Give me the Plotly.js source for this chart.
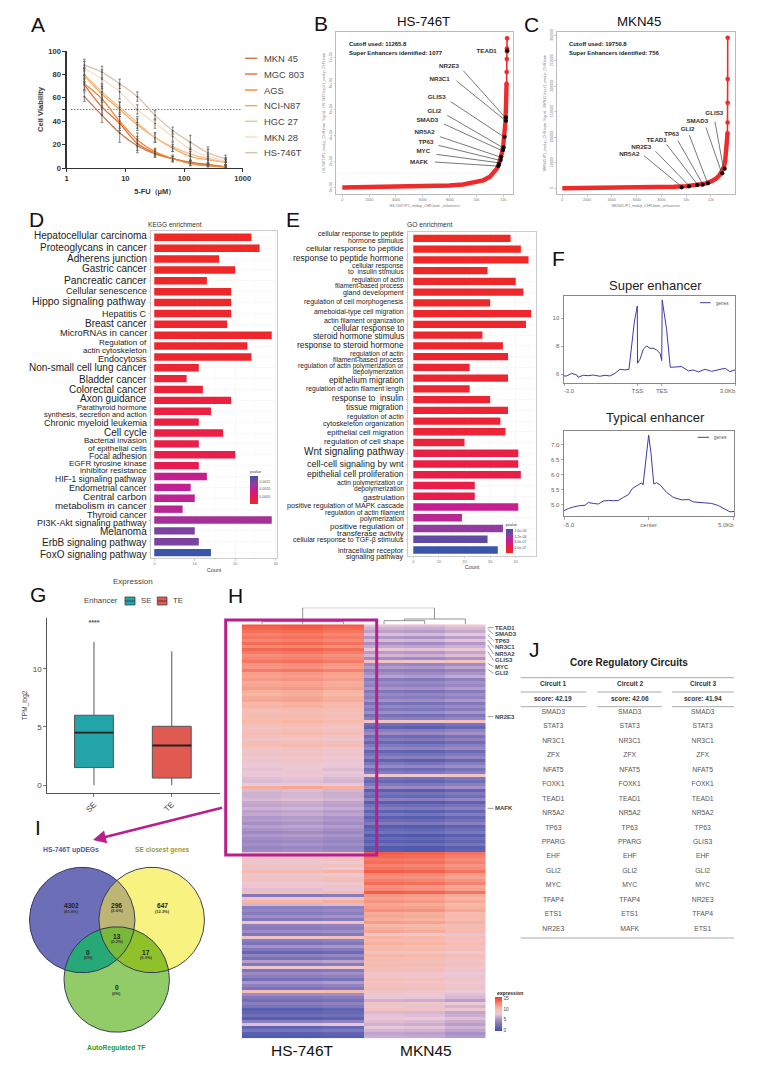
<!DOCTYPE html>
<html><head><meta charset="utf-8">
<script src="https://cdn.plot.ly/plotly-3.0.1.min.js"></script>
<style>html,body{margin:0;padding:0;background:#fff}#g{width:769px;height:1067px}</style>
</head><body><div id="g"></div>
<script>
// ---------- A: dose response ----------
const doses=[2,4,8,16,32,64,128,256,512];
const lineNames=['MKN 45','MGC 803','AGS','NCI-N87','HGC 27','MKN 28','HS-746T'];
const lineColors=['#c87a48','#ea6a32','#f08a30','#f4a860','#f6c08c','#f9dcc0','#e0c0a8'];
const vMKN45=[61,45,30,19,12,8,5,3,1];
const vMGC803=[71,52,38,21,13,8,4,2,1];
const vAGS=[72,59,40,24,14,8,4,2,1];
const vNCI=[79,63,50,37,26,17,10,7,5];
const vHGC=[80,65,52,39,26,18,12,8,5];
const vMKN28=[85,76,65,50,38,27,16,10,6];
const vHS=[88,82,72,61,45,32,22,13,8];
const eMKN45=[4,6,8,6,3,2,1.5,1,1];
const eMGC803=[5,6,6,6,3,2,2,1,1];
const eAGS=[5,6,6,6,3,3,2,1,1];
const eNCI=[6,7,6,5,4,3,4,3,2];
const eHGC=[6,7,5,5,4,4,5,4,2.5];
const eMKN28=[6,8,6,4,4,4,6,6,3];
const eHS=[5,5,4,4,4,3,6,5,3];
// ---------- B: HS-746T hockey stick ----------
const bRank=[0,2000,4000,6000,8000,9000,10000,10500,11000,11265,11500,11650,11800,11900,12000,12100,12150,12190,12220,12240];
const bSig=[100,300,600,1000,1700,2500,4100,5700,8500,11200,14500,17500,22000,27000,33000,42000,50000,60000,70000,80000];
const bTopRank=[12240,12250,12260,12270,12270,12280];
const bTopSig=[80000,89000,99000,105000,107000,115000];
const bGenes=['TEAD1','NR2E3','NR3C1','GLIS3','GLI2','SMAD3','NR5A2','TP63','MYC','MAFK'];
const bGeneRank=[12296,12197,12197,12097,12022,11973,11849,11799,11675,11625];
const bGeneSig=[105400,54100,51500,39200,31000,29000,23850,21280,18200,16670];
const bLabelX=[10757,7950,7253,7030,6855,6334,6135,6235,6036,5713];
const bLabelY=[105100,93600,83300,69700,59000,51800,42300,35100,27700,19700];
const bLeadX=[9017,12047,null,8520,12047,null,8073,11948,null,7825,11850,null,7576,11800,null,7278,11700,null,7179,11650,null,7030,11600,null,6905,11550];
const bLeadY=[90000,55100,null,82050,52560,null,66150,39740,null,55640,31540,null,48970,28970,null,39230,23850,null,32560,21280,null,25640,19230,null,19740,16670];
// ---------- C: MKN45 hockey stick ----------
const cRank=[0,2000,4000,6000,8000,9000,10000,11000,11500,12000,12400,12700,12900,13050,13150,13230,13280,13310,13330];
const cSig=[200,400,700,1100,1900,3000,4200,6500,9000,13500,19000,26000,33000,42000,55000,70000,85000,100000,108000];
const cTopRank=[13330,13340,13345,13345,13350];
const cTopSig=[108000,129000,167500,214000,295000];
const cGenes=['NR5A2','NR2E3','TEAD1','TP63','GLI2','SMAD3','GLIS3'];
const cGeneRank=[9630,10222,10895,11325,11755,12912,13100];
const cGeneSig=[1960,3900,6500,7200,9800,29300,38500];
const cLabelX=[5407,6375,7613,8823,10114,10895,12266];
const cLabelY=[66500,80200,93200,106300,116000,131700,147300];
const cLeadX=[6590,9630,null,7532,10222,null,8420,10895,null,9334,11298,null,10250,11700,null,11594,12858,null,12320,12993];
const cLeadY=[63900,3260,null,72400,5200,null,86060,7800,null,93200,9780,null,104300,11700,null,119300,30600,null,130400,41000];
// ---------- D: KEGG ----------
const keggLabels=['Hepatocellular carcinoma','Proteoglycans in cancer','Adherens junction','Gastric cancer','Pancreatic cancer','Cellular senescence','Hippo signaling pathway','Hepatitis C','Breast cancer','MicroRNAs in cancer','Regulation of\nactin cytoskeleton','Endocytosis','Non-small cell lung cancer','Bladder cancer','Colorectal cancer','Axon guidance','Parathyroid hormone\nsynthesis, secretion and action','Chronic myeloid leukemia','Cell cycle','Bacterial invasion\nof epithelial cells','Focal adhesion','EGFR tyrosine kinase\ninhibitor resistance','HIF-1 signaling pathway','Endometrial cancer','Central carbon\nmetabolism in cancer','Thyroid cancer','PI3K-Akt signaling pathway','Melanoma','ErbB signaling pathway','FoxO signaling pathway'];
const keggCount=[24,26,16,20,13,19,19,19,18,29,23,24,11,8,12,19,14,11,17,11,20,11,13,9,10,7,29,10,11,14];
const keggP=[.00001,.00002,.00003,.00004,.00005,.00006,.00007,.00008,.00009,.0001,.0001,.00012,.00018,.0002,.00022,.00026,.0003,.00032,.00035,.00038,.0004,.00045,.00095,.00098,.001,.00105,.0012,.0015,.0015,.00186];
const keggSize=[10,10,10,10,10.3,9,10.5,9,10,9.3,8,9,10,10,10,10,7.5,9,10,8,8.5,8,8.5,9,9.7,9,9,10,10,10];
const keggLabelZ=[92,127,161,191,226,257,288,326,354,385,424,461,489,523,553,581,617,653,681,719,753,786,823,849,888,930,953,980,1011,1047];
// ---------- E: GO ----------
const goLabels=['cellular response to peptide\nhormone stimulus','cellular response to peptide','response to peptide hormone','cellular response\nto  insulin stimulus','regulation of actin\nfilament-based process','gland development','regulation of cell morphogenesis','ameboidal-type cell migration','actin filament organization','cellular response to\nsteroid hormone stimulus','response to steroid hormone','regulation of actin\nfilament-based process','regulation of actin polymerization or\ndepolymerization','epithelium migration','regulation of actin filament length','response to  insulin','tissue migration','regulation of actin\ncytoskeleton organization','epithelial cell migration','regulation of cell shape','Wnt signaling pathway','cell-cell signaling by wnt','epithelial cell proliferation','actin polymerization or\ndepolymerization','gastrulation','positive regulation of MAPK cascade','regulation of actin filament\npolymerization','positive regulation of\ntransferase activity','cellular response to TGF-\u03b2 stimulus','intracellular receptor\nsignaling pathway'];
const goCount=[38,42,45,29,40,43,30,46,44,27,35,37,22,37,22,30,37,34,36,20,41,41,42,24,24,41,19,35,29,33];
const goP=[1e-8,2e-8,3e-8,4e-8,5e-8,6e-8,7e-8,8e-8,9e-8,1e-7,1e-7,1.1e-7,1.2e-7,1.3e-7,1.4e-7,1.6e-7,1.7e-7,1.9e-7,2e-7,2.2e-7,3.4e-7,3.5e-7,3.6e-7,3.8e-7,4e-7,9e-7,9.8e-7,1.3e-6,1.55e-6,1.75e-6];
const goSize=[7,8,8.5,6.8,6.6,7.2,6.9,6.9,6.9,8.2,8.4,6.8,6.7,8.3,6.7,8.3,8.2,7.2,7.6,7.8,10,9,8.6,6.6,8,7.2,6.8,8,7,7.2];
const goLabelZ=[97,129,160,191,234,263,290,320,348,383,421,455,492,526,552,579,607,645,681,709,741,776,807,843,876,902,934,975,1006,1046];
const pScale=[[0,'#ee2a24'],[.25,'#e81c50'],[.5,'#c81d90'],[.75,'#8f3d9e'],[1,'#3a55a8']];
// ---------- F: profiles ----------
const seX=[-3.0,-2.89,-2.69,-2.48,-2.42,-2.21,-2.01,-1.80,-1.53,-1.32,-1.12,-.91,-.71,-.50,-.34,-.23,-.12,0,.01,.11,.25,.38,.52,.65,.79,.93,1.0,1.02,1.2,1.35,1.68,1.82,2.09,2.29,2.50,2.77,3.04,3.32,3.59,3.79,4.0];
const seY=[5.88,5.88,6.07,5.95,5.79,5.93,5.90,5.95,5.86,5.93,5.88,6.07,6.36,6.31,6.36,8.21,9.74,10.88,6.79,7.07,7.79,8.02,7.86,7.86,7.74,7.5,6.98,11.31,9.2,6.5,6.52,6.55,6.24,6.31,6.17,6.36,6.21,6.31,6.43,6.19,6.31];
const teX=[-5,-4.74,-4.45,-4.15,-3.76,-3.56,-3.27,-2.97,-2.68,-2.38,-2.09,-1.79,-1.50,-1.20,-.96,-.71,-.41,-.33,-.16,0,.14,.30,.47,.67,1.06,1.46,1.95,2.38,2.64,2.93,3.32,3.72,4.11,4.50,4.80,5.04];
const teY=[4.80,4.87,4.92,4.96,4.98,5.07,5.04,5.02,5.12,5.14,5.13,5.14,5.24,5.33,5.54,5.62,5.73,5.66,6.6,7.32,6.71,5.69,5.73,5.66,5.41,5.24,5.16,5.17,5.09,5.08,5.07,5.04,4.97,4.84,4.76,4.77];
// ---------- G: box ----------
const boxNames=['SE','TE'];
const boxQ1=[1.5,.6],boxMed=[4.5,3.4],boxQ3=[6,5.05],boxLow=[0,0],boxHigh=[12.3,11.5];
const boxColors=['#23a4a8','#e15a52'];
// ---------- H: heatmap ----------
const hsTop=[14.2,13.8,13.2,12.6,13,12.4,13.4,12.2,13.6,12.8,12,12.4,13,11.8,11.6,12.8,11.4,11.2,11.6,10.8,11,11.4,10.6,10.4,10.8,11,10.2,10.4,9.6,9.4,9.8,9.4,10.2,9.4,8.8,9.2,9.6,9,8.6,9.4,9.6,8.6,8.2,8.8,8,8.4,7.8,7.6,7.2,8,7.4,7,6.8,7.6,10.8,6.8,6.4,6.4,6.8,6,5.8,6.4,5.6,6,5.2,5.4,4.8,5.6,5,4.4,5.2,4.6,4.2,4.8,4,4.4];
const mknTop=[7.2,6.4,5.6,7,5.2,6.8,4.8,6,7.4,5.4,6.6,4.6,8.6,4.2,5.4,3.6,4.6,5.6,3.2,4.4,3.8,5,2.8,4.2,3.4,4.8,2.6,4,3,4.6,2.4,3.6,8.6,2.2,1.2,3.4,4.4,2,3.2,1.6,3,4,1.4,2.6,3.6,1.2,2.8,4.2,2,3.2,8,2.4,1.6,3,4.4,1,2.6,1.8,3.6,0.8,2.2,3.2,1.2,2.8,1,2,3,0.8,1.6,2.4,0.6,1.8,1,2.2,0.6,0.8];
const hsBot=[8.2,7.8,8.6,7.4,8.8,7.2,10.2,7.4,8.6,9,7.6,8.4,7,9.6,3,8.6,10.4,6.6,3.4,4,3.2,4.6,3,8.8,3.6,3.2,4.4,2.8,8.6,3.4,2.6,4.8,3,1.6,3.8,2.4,5.4,3,8,2.8,4.4,3.4,2.2,5,3.6,2.6,9.6,4.4,3,2.2,3.4,2.6,1,1.4,2,0.8,3.4,7,1.2,2.6,1,0.6];
const mknBot=[14,13.6,13,13.4,12.6,13,14,12.4,12,12.6,13.4,11.8,12.2,14,11.6,11.2,11.8,11,11.4,12,10.8,11,10.6,11.4,10.2,10.6,11,8.2,10.4,10,10.6,9.8,10.2,8.6,10.4,9.6,9.4,10,9.2,9.6,8.4,8.2,9.4,8.6,9,9.6,8.4,8,7.6,6.4,8.6,7.4,9,6.8,7.2,8,7,6.4,7.4,6.6,5.8,6.2];
const repTopHS=[0,.2,-.2],repTopMKN=[0,-.2,.4],repBotHS=[0,0,.3],repBotMKN=[0,-.2,-.9];
const heatScale=[[0,'#3d4ea8'],[.33,'#a48fc6'],[.5,'#ecc9d8'],[.67,'#f8b9a8'],[1,'#f23a22']];
const dendroX=[1,1,4.24,4.24,null,0,0,2,2,null,1,1,null,3,3,4,4,null,3.5,3.5,5,5];
const dendroH=[8,50,50,16,null,0,8,8,0,null,0,8,null,0,11,11,0,null,11,16,16,0];
const heatGenes=['TEAD1','SMAD3','TP63','NR3C1','NR5A2','GLIS3','MYC','GLI2','NR2E3','MAFK'];
const heatGeneRowZ=[113,118,135,150,165,185,220,238,380,655];
const heatGeneLabelZ=[113,132,152,172,192,211,230,250,380,655];
// ---------- I: Venn ----------
const vennX=[82.2,151.7,116.7],vennY=[920,920,979.5],vennR=52.7;
const vennFills=['#6c6eb8','#f8f280','#92cc68'];
const vennCounts=[['4302','(81.6%)',71,905.7],['296','(5.6%)',116.7,905],['647','(12.3%)',162.7,905.7],['13','(0.2%)',116.7,936],['0','(0%)',88.3,952.3],['17','(0.3%)',145.7,952.3],['0','(0%)',116.7,987.7]];
// ---------- J: table ----------
const circuit1=['SMAD3','STAT3','NR3C1','ZFX','NFAT5','FOXK1','TEAD1','NR5A2','TP63','PPARG','EHF','GLI2','MYC','TFAP4','ETS1','NR2E3'];
const circuit2=['SMAD3','STAT3','NR3C1','ZFX','NFAT5','FOXK1','TEAD1','NR5A2','TP63','PPARG','EHF','GLI2','MYC','TFAP4','ETS1','MAFK'];
const circuit3=['SMAD3','STAT3','NR3C1','ZFX','NFAT5','FOXK1','TEAD1','NR5A2','TP63','GLIS3','EHF','GLI2','MYC','NR2E3','TFAP4','ETS1'];
const circuitHead=['Circuit 1','Circuit 2','Circuit 3'];
const circuitScore=['score: 42.19','score: 42.06','score: 41.94'];
const circuitPos=[553.3,629.7,702.7];

const W=769,H=1067,FF='"Liberation Sans",Arial,sans-serif';
const dx=(a,b)=>[a/W,b/W], dy=(t,b)=>[1-b/H,1-t/H];
const anns=[],shapes=[],traces=[];
function tx(x,y,text,size,color,anchor,weight,extra){anns.push(Object.assign({xref:'paper',yref:'paper',x:x/W,y:1-y/H,text:text,showarrow:false,xanchor:anchor||'center',yanchor:'middle',borderpad:0,borderwidth:0,font:{family:FF,size:size,color:color||'#222',weight:weight||400}},extra||{}));}
function ln(x0,y0,x1,y1,color,w,dash){shapes.push({type:'line',xref:'paper',yref:'paper',x0:x0/W,y0:1-y0/H,x1:x1/W,y1:1-y1/H,line:{color:color,width:w,dash:dash||'solid'}});}

// letters
[['A',38,25],['B',320.7,23.3],['C',531.7,24],['D',36.7,220],['E',293,220],['F',558,258],['G',38,594],['H',235,595],['I',38,827],['J',534,649]].forEach(l=>tx(l[1],l[2],l[0],21,'#111'));

// A
const aVals=[vMKN45,vMGC803,vAGS,vNCI,vHGC,vMKN28,vHS],aErr=[eMKN45,eMGC803,eAGS,eNCI,eHGC,eMKN28,eHS];
traces.push({x:[1.2,950],y:[50,50],mode:'lines',line:{color:'#333',width:.9,dash:'1px,2px'},xaxis:'x',yaxis:'y',showlegend:false,hoverinfo:'skip'});
aVals.forEach((v,i)=>traces.push({x:doses,y:v,name:lineNames[i],mode:'lines+markers',line:{color:lineColors[i],width:1.3,shape:'spline',smoothing:1},marker:{size:1.8,color:'#444'},error_y:{type:'data',array:aErr[i],color:'#555',thickness:.7,width:1.3},xaxis:'x',yaxis:'y',showlegend:false}));
const aLegY=[58.3,74,90,105.7,121.3,137,152.7];
lineNames.forEach((n,i)=>{ln(245,aLegY[i],257.3,aLegY[i],lineColors[i],1.4);tx(264,aLegY[i],n,9.4,'#444','left');});

// B & C
function hockey(ax,ay,r,s,tr,ts,gr,gs,lx,ly,gn,lex,ley,cut,yMin,yMax){
 traces.push({x:[cut,cut],y:[yMin,yMax],mode:'lines',line:{color:'#ddd',width:.5,dash:'1px,2px'},xaxis:ax,yaxis:ay,hoverinfo:'skip',showlegend:false});
 traces.push({x:[-500,14000],y:[cut,cut],mode:'lines',line:{color:'#ddd',width:.5,dash:'1px,2px'},xaxis:ax,yaxis:ay,hoverinfo:'skip',showlegend:false});
 traces.push({x:r,y:s,mode:'lines',line:{color:'#ee2a2a',width:4.4},xaxis:ax,yaxis:ay,showlegend:false});
 traces.push({x:tr,y:ts,mode:'lines+markers',line:{color:'#ee2a2a',width:1.6},marker:{size:4.6,color:'#ee2a2a'},xaxis:ax,yaxis:ay,showlegend:false});
 traces.push({x:lex,y:ley,mode:'lines',line:{color:'#555',width:.8},xaxis:ax,yaxis:ay,showlegend:false,hoverinfo:'skip',connectgaps:false});
 traces.push({x:gr,y:gs,mode:'markers',marker:{size:4.2,color:'#000'},xaxis:ax,yaxis:ay,showlegend:false,text:gn});
 traces.push({x:lx,y:ly,text:gn,mode:'text',textposition:'middle center',textfont:{family:FF,size:6.2,color:'#333',weight:700},xaxis:ax,yaxis:ay,showlegend:false,cliponaxis:false});
}
hockey('x2','y2',bRank,bSig,bTopRank,bTopSig,bGeneRank,bGeneSig,bLabelX,bLabelY,bGenes,bLeadX,bLeadY,11265.8,-4850,120000);
hockey('x3','y3',cRank,cSig,cTopRank,cTopSig,cGeneRank,cGeneSig,cLabelX,cLabelY,cGenes,cLeadX,cLeadY,19750.8,-11150,306800);
tx(424,21,'HS-746T',13.3,'#111');tx(639,21,'MKN45',13.3,'#111');
tx(349,44.3,'Cutoff used: 11265.8',5.9,'#222','left',700);tx(349,53,'Super Enhancers identified: 1077',5.9,'#222','left',700);
tx(569,44.3,'Cutoff used: 19750.8',5.9,'#222','left',700);tx(569,53,'Super Enhancers identified: 756',5.9,'#222','left',700);

// D & E
function barsPanel(ax,ay,labels,counts,p,cmax,cb,sizes,labZ,xRight,lineK){
 traces.push({type:'bar',orientation:'h',x:counts,y:labels.map((_,i)=>i),xaxis:ax,yaxis:ay,showlegend:false,hovertext:labels,marker:{color:p,colorscale:pScale,cmin:0,cmax:cmax,line:{width:0},colorbar:cb}});
 labels.forEach((t,i)=>{const parts=t.split('\n'),gap=sizes[i]*lineK,yc=labZ[i]/3+205;
  parts.forEach((s,j)=>tx(xRight,yc+(j-(parts.length-1)/2)*gap,s,sizes[i],'#222','right'));});
}
const cbBase={lenmode:'pixels',thicknessmode:'pixels',xanchor:'left',yanchor:'top',outlinewidth:0,borderwidth:0,xpad:0,ypad:0,ticks:'',tickfont:{family:FF,size:3.6,color:'#555'}};
barsPanel('x4','y4',keggLabels,keggCount,keggP,.00186,Object.assign({},cbBase,{x:250/W,y:1-467/H,len:37,thickness:7.7,tickvals:[.0005,.001,.0015],ticktext:['0.0005','0.0010','0.0015'],title:{text:'pvalue',side:'top',font:{family:FF,size:3.8,color:'#333'}}}),keggSize,keggLabelZ,146.7,.92);
barsPanel('x5','y5',goLabels,goCount,goP,1.75e-6,Object.assign({},cbBase,{x:505.7/W,y:1-520/H,len:33.3,thickness:6.6,tickvals:[4e-7,8e-7,1.2e-6,1.6e-6],ticktext:['4.0e-07','8.0e-07','1.2e-06','1.6e-06'],title:{text:'pvalue',side:'top',font:{family:FF,size:3.8,color:'#333'}}}),goSize,goLabelZ,404,.92);
tx(148,224,'KEGG enrichment',6.6,'#333','left');tx(407.3,225,'GO enrichment',6.7,'#333','left');

// F
traces.push({x:seX,y:seY,mode:'lines',line:{color:'#3c3ca8',width:1},xaxis:'x6',yaxis:'y6',showlegend:false,name:'genes'});
traces.push({x:teX,y:teY,mode:'lines',line:{color:'#3c3ca8',width:1},xaxis:'x7',yaxis:'y7',showlegend:false,name:'genes'});
tx(655,285,'Super enhancer',13,'#222');tx(655.7,417.7,'Typical enhancer',13,'#222');
ln(700,302.7,710.7,302.7,'#3c3ca8',1);tx(722.7,303,'genes',4.6,'#555');
ln(697.7,437.3,709,437.3,'#3c3ca8',1);tx(720.7,437.7,'genes',4.6,'#555');

// G
boxNames.forEach((n,i)=>{
 traces.push({type:'box',name:n,x:[i],q1:[boxQ1[i]],median:[boxMed[i]],q3:[boxQ3[i]],lowerfence:[boxLow[i]],upperfence:[boxHigh[i]],width:.5,whiskerwidth:0,boxpoints:false,fillcolor:boxColors[i],line:{color:'#555',width:1},xaxis:'x8',yaxis:'y8',showlegend:false});
 traces.push({x:[i-.25,i+.25],y:[boxMed[i],boxMed[i]],mode:'lines',line:{color:'#222',width:1.8},xaxis:'x8',yaxis:'y8',showlegend:false,hoverinfo:'skip'});
});
traces.push({x:[0],y:[13.95],text:['****'],mode:'text',textfont:{family:FF,size:7,color:'#555',weight:700},xaxis:'x8',yaxis:'y8',showlegend:false,cliponaxis:false});
tx(132.7,581.7,'Expression',8,'#444');tx(100.7,600.7,'Enhancer',7.8,'#444');tx(145.7,600.7,'SE',7.8,'#444');tx(177.7,600.7,'TE',7.8,'#444');
[[125,135,boxColors[0]],[157.3,167,boxColors[1]]].forEach(b=>{shapes.push({type:'rect',xref:'paper',yref:'paper',x0:b[0]/W,x1:b[1]/W,y0:1-605/H,y1:1-597/H,fillcolor:b[2],line:{color:'#444',width:.8}});ln(b[0],601,b[1],601,'#333',.8);});

// H
const heatZ=[];
hsTop.forEach((v,i)=>heatZ.push([v+repTopHS[0],v+repTopHS[1],v+repTopHS[2],mknTop[i]+repTopMKN[0],mknTop[i]+repTopMKN[1],mknTop[i]+repTopMKN[2]]));
hsBot.forEach((v,i)=>heatZ.push([v+repBotHS[0],v+repBotHS[1],v+repBotHS[2],mknBot[i]+repBotMKN[0],mknBot[i]+repBotMKN[1],mknBot[i]+repBotMKN[2]]));
traces.push({type:'heatmap',z:heatZ,xaxis:'x9',yaxis:'y9',zmin:-.5,zmax:15.5,colorscale:heatScale,xgap:0,ygap:0,showlegend:false,colorbar:{lenmode:'pixels',len:34.4,thickness:6.7,thicknessmode:'pixels',x:495/W,y:1-997.3/H,xanchor:'left',yanchor:'top',outlinewidth:0,borderwidth:0,xpad:0,ypad:0,ticks:'',tickvals:[0,5,10,15],tickfont:{family:FF,size:4.8,color:'#444'}}});
traces.push({x:dendroX,y:dendroH,mode:'lines',line:{color:'#777',width:.8},xaxis:'x9',yaxis:'y11',showlegend:false,hoverinfo:'skip'});
shapes.push({type:'rect',xref:'paper',yref:'paper',x0:225.7/W,x1:376.7/W,y0:1-855/H,y1:1-620/H,line:{color:'#b81e8c',width:3},fillcolor:'rgba(0,0,0,0)'});
tx(302.7,1050,'HS-746T',15.5,'#111');tx(425.7,1050,'MKN45',15.5,'#111');
tx(510,993,'expression',5,'#222','center',700);
heatGenes.forEach((g,i)=>{const ly=heatGeneLabelZ[i]/3+590,ry=heatGeneRowZ[i]/3+590;ln(487.7,ry,493.5,ly,'#555',.6);tx(495,ly,g,6,'#444','left',700);});

// I
function circPts(i){const p=[];for(let a=0;a<360;a+=2){const t=a*Math.PI/180;p.push([vennX[i]+vennR*Math.cos(t),vennY[i]+vennR*Math.sin(t)]);}return p;}
function inC(p,i){return Math.hypot(p[0]-vennX[i],p[1]-vennY[i])<=vennR+.01;}
function region(set){let pts=[];set.forEach(i=>circPts(i).forEach(p=>{if(set.every(j=>inC(p,j)))pts.push(p);}));
 const cx=pts.reduce((s,p)=>s+p[0],0)/pts.length,cy=pts.reduce((s,p)=>s+p[1],0)/pts.length;
 pts.sort((a,b)=>Math.atan2(a[1]-cy,a[0]-cx)-Math.atan2(b[1]-cy,b[0]-cx));pts.push(pts[0]);return pts;}
function fillReg(set,col,lineC){const p=region(set);traces.push({x:p.map(q=>q[0]),y:p.map(q=>q[1]),mode:'lines',fill:lineC?'none':'toself',fillcolor:col,line:{color:lineC||col,width:lineC?.9:0},xaxis:'x10',yaxis:'y10',showlegend:false,hoverinfo:'skip'});}
fillReg([0],vennFills[0]);fillReg([1],vennFills[1]);fillReg([2],vennFills[2]);
fillReg([0,1],'#bdb573');fillReg([0,2],'#26a877');fillReg([1,2],'#8fc22a');fillReg([0,1,2],'#78b83a');
[0,1,2].forEach(i=>fillReg([i],'#000','#2a2a50'));
vennCounts.forEach(c=>{tx(c[2],c[3],c[0],6.6,'#222','center',700);tx(c[2],c[3]+5.5,c[1],4,'#333','center',700);});
tx(71,850,'HS-746T upDEGs',6.8,'#4a5aa8','center',700);tx(162.7,850,'SE closest genes',6.6,'#9a9a40','center',700);tx(116.7,1047.7,'AutoRegulated TF',6.8,'#2a9a3a','center',700);
anns.push({xref:'paper',yref:'paper',x:93/W,y:1-840/H,axref:'paper',ayref:'paper',ax:225/W,ay:1-807/H,text:' ',showarrow:true,arrowhead:2,arrowsize:1,arrowwidth:2.6,arrowcolor:'#b81e8c'});

// J
[circuit1,circuit2,circuit3].forEach((c,i)=>{traces.push({x:c.map(()=>circuitPos[i]),y:c.map((_,r)=>r),text:c,mode:'text',textfont:{family:FF,size:6.8,color:'#555'},xaxis:'x12',yaxis:'y12',showlegend:false,name:circuitHead[i]});
 tx(circuitPos[i],683.3,circuitHead[i],6.5,'#333','center',700);tx(circuitPos[i],698.3,circuitScore[i],6.5,'#333','center',700);});
tx(629.3,662.7,'Core Regulatory Circuits',10,'#222','center',700);
ln(520.7,677.7,734,677.7,'#aaa',1);ln(520.7,938,734,938,'#aaa',1);
[692,706.7].forEach(y=>{ln(520.7,y,586.3,y,'#aaa',1);ln(597.3,y,661.7,y,'#aaa',1);ln(672,y,734,y,'#aaa',1);});

const tiny={family:FF,size:3.6,color:'#777'};
const smBox={showline:true,mirror:true,linecolor:'#bbb',linewidth:1,zeroline:false,showgrid:false,ticks:'outside',ticklen:1.5,tickwidth:.5,tickcolor:'#999',tickfont:tiny};
const barX={...smBox,showgrid:true,gridcolor:'#efefef',gridwidth:.5,minor:{showgrid:true,gridcolor:'#f6f6f6',gridwidth:.4,ticks:''},linecolor:'#ccc',tickfont:{family:FF,size:3.9,color:'#777'}};
const barY={...smBox,showgrid:true,gridcolor:'#f2f2f2',gridwidth:.5,linecolor:'#ccc',showticklabels:false,ticklen:1.5};
const fAx={showline:true,mirror:true,linecolor:'#888',linewidth:1,zeroline:false,showgrid:false,ticks:'outside',ticklen:2.5,tickwidth:.7,tickcolor:'#888',tickfont:{family:FF,size:6,color:'#666'}};
const hid={visible:false,showgrid:false,zeroline:false,fixedrange:true};
const boldA={family:FF,size:7.6,color:'#333',weight:700};

const layout={width:W,height:H,autosize:false,margin:{l:0,r:0,t:0,b:0,pad:0},paper_bgcolor:'#fff',plot_bgcolor:'rgba(0,0,0,0)',showlegend:false,bargap:.32,boxmode:'overlay',hovermode:false,font:{family:FF},
 annotations:anns,shapes:shapes,
 xaxis:{domain:dx(66.7,242.7),type:'log',range:[0,3],anchor:'y',showline:true,linecolor:'#333',linewidth:1.3,ticks:'outside',ticklen:3,tickwidth:1,tickcolor:'#333',tickvals:[1,10,100,1000],ticktext:['1','10','100','1000'],tickfont:boldA,showgrid:false,zeroline:false,title:{text:'5-FU\uff08\u03bcM\uff09',font:{...boldA,size:7.4},standoff:6}},
 yaxis:{domain:dy(51,168),range:[0,100],anchor:'x',showline:true,linecolor:'#333',linewidth:1.3,ticks:'outside',ticklen:3,tickwidth:1,tickcolor:'#333',tickvals:[0,20,40,50,60,80,100],ticktext:['0','20','40','','60','80','100'],tickfont:boldA,showgrid:false,zeroline:false,title:{text:'Cell Viability',font:boldA,standoff:3}},
 xaxis2:{...smBox,domain:dx(336,513),range:[-470,12720],anchor:'y2',tickvals:[0,2000,4000,6000,8000,10000,12000],title:{text:'HS.746T.IP1_rmdup_CHR.bam _enhancers',font:tiny,standoff:3}},
 yaxis2:{...smBox,domain:dy(31.7,194),range:[-4850,120000],anchor:'x2',tickvals:[0,20000,40000,60000,80000,100000],ticktext:['0e+00','2e+04','4e+04','6e+04','8e+04','1e+05'],tickangle:-90,title:{text:'HS.746T.IP1_rmdup_CHR.bam  Signal - HS.746T.Input1_rmdup_CHR.bam',font:tiny,standoff:3}},
 xaxis3:{...smBox,domain:dx(556.7,735),range:[-452,13938],anchor:'y3',tickvals:[0,2000,4000,6000,8000,10000,12000],title:{text:'MKN45.IP1_rmdup_CHR.bam _enhancers',font:tiny,standoff:3}},
 yaxis3:{...smBox,domain:dy(31.7,194),range:[-11150,306800],anchor:'x3',tickvals:[0,50000,100000,150000,200000,250000,300000],ticktext:['0','50000','100000','150000','200000','250000','300000'],tickangle:-90,title:{text:'MKN45.IP1_rmdup_CHR.bam  Signal - MKN45.Input1_rmdup_CHR.bam',font:tiny,standoff:3}},
 xaxis4:{...barX,domain:dx(151,277),range:[-.8,30.3],anchor:'y4',tickvals:[0,10,20,30],minor:{...barX.minor,tickvals:[5,15,25]},title:{text:'Count',font:{family:FF,size:5.5,color:'#444'},standoff:2}},
 yaxis4:{...barY,domain:dy(231,558),range:[29.49,-.58],anchor:'x4',dtick:1,tick0:0},
 xaxis5:{...barX,domain:dx(408.3,535.7),range:[-1.95,47.8],anchor:'y5',tickvals:[0,10,20,30,40],minor:{...barX.minor,tickvals:[5,15,25,35,45]},title:{text:'Count',font:{family:FF,size:5.5,color:'#444'},standoff:2}},
 yaxis5:{...barY,domain:dy(232.3,555.7),range:[29.53,-.56],anchor:'x5',dtick:1,tick0:0},
 xaxis6:{...fAx,domain:dx(564,735),range:[-3,4],anchor:'y6',tickvals:[-3,0,1,4],ticktext:['\u00a0\u00a0\u00a0\u00a0\u00a0\u00a0-3.0','TSS','TES','3.0Kb\u00a0\u00a0\u00a0\u00a0\u00a0\u00a0\u00a0\u00a0\u00a0']},
 yaxis6:{...fAx,domain:dy(295.7,382.7),range:[5.4,11.61],anchor:'x6',tickvals:[6,8,10]},
 xaxis7:{...fAx,domain:dx(564,734),range:[-5,5.04],anchor:'y7',tickvals:[-5,0,5],ticktext:['\u00a0\u00a0\u00a0\u00a0\u00a0\u00a0-5.0','center','5.0Kb\u00a0\u00a0\u00a0\u00a0\u00a0\u00a0\u00a0\u00a0\u00a0']},
 yaxis7:{...fAx,domain:dy(430.7,516),range:[4.62,7.47],anchor:'x7',tickvals:[5,5.5,6,6.5,7],ticktext:['5.0','5.5','6.0','6.5','7.0']},
 xaxis8:{domain:dx(47.3,220),range:[-.6,1.62],anchor:'y8',showline:true,linecolor:'#555',linewidth:1,ticks:'outside',ticklen:3,tickwidth:.8,tickcolor:'#555',tickvals:[0,1],ticktext:boxNames,tickangle:-45,tickfont:{family:FF,size:8,color:'#444'},showgrid:false,zeroline:false},
 yaxis8:{domain:dy(618,792.7),range:[-.66,14.36],anchor:'x8',showline:true,linecolor:'#555',linewidth:1,ticks:'outside',ticklen:3,tickwidth:.8,tickcolor:'#555',tickvals:[0,5,10],tickfont:{family:FF,size:8,color:'#444'},showgrid:false,zeroline:false,title:{text:'TPM_log2',font:{family:FF,size:6.5,color:'#444'},standoff:4}},
 xaxis9:{...hid,domain:dx(241.7,485.7),range:[-.5,5.5],anchor:'y9'},
 yaxis9:{...hid,domain:dy(624.3,1038.3),range:[137.5,-.5],anchor:'x9'},
 yaxis11:{...hid,domain:dy(607.7,624.3),range:[0,50],anchor:'x9'},
 xaxis10:{...hid,domain:dx(20,220),range:[20,220],anchor:'y10'},
 yaxis10:{...hid,domain:dy(860,1040),range:[1040,860],anchor:'x10'},
 xaxis12:{...hid,domain:dx(510,760),range:[510,760],anchor:'y12'},
 yaxis12:{...hid,domain:dy(705,935),range:[15.42,-.506],anchor:'x12'}
};
Plotly.newPlot('g',traces,layout,{displayModeBar:false,staticPlot:true});
</script></body></html>
